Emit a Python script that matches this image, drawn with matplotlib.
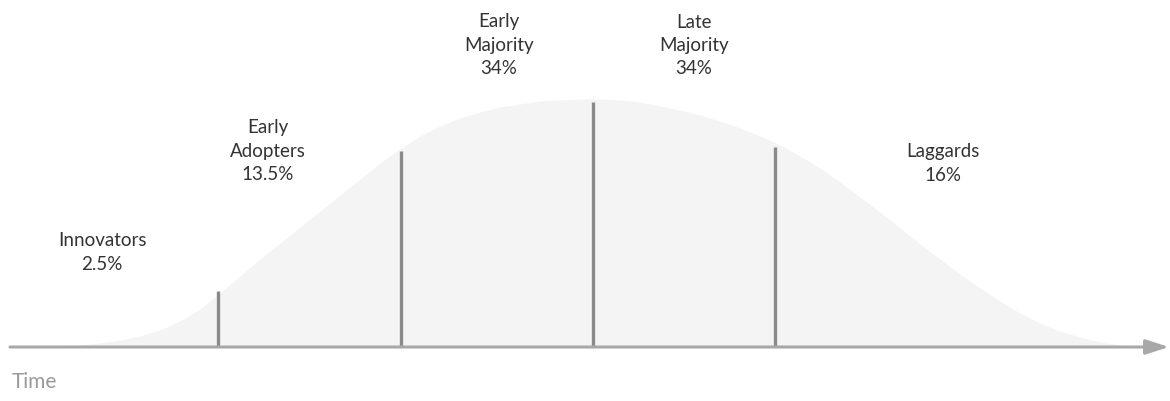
import matplotlib
matplotlib.use("Agg")
import matplotlib.pyplot as plt

# Bell curve outline (x position, height above the time axis)
curve_x = [40, 60, 80, 100, 120, 140, 160, 180, 200, 220, 240, 260, 280, 300, 320,
           340, 360, 380, 400, 420, 440, 460, 480, 500, 520, 540, 560, 580, 600,
           620, 640, 660, 680, 700, 720, 740, 760, 780, 800, 820, 840, 860, 880,
           900, 920, 940, 960, 980, 1000, 1020, 1040, 1060, 1080, 1100, 1120, 1140]
curve_h = [0, 1, 2, 4, 7, 11, 17, 26, 38, 54, 71, 88, 104, 120, 136,
           152, 168, 184, 198, 211, 221, 229, 235, 240, 243, 246, 247, 248, 248,
           247, 245, 241, 237, 232, 226, 219, 211, 202, 191, 179, 165, 150, 135,
           119, 103, 88, 73, 59, 46, 34, 24, 16, 10, 5, 2, 0]

# Segment divider lines (x position, height)
divider_x = [218, 401, 593, 775]
divider_h = [56, 196, 245, 200]

# Segment labels
labels = ["Innovators\n2.5%", "Early\nAdopters\n13.5%", "Early\nMajority\n34%",
          "Late\nMajority\n34%", "Laggards\n16%"]
label_x = [102, 268, 499, 694, 943]
label_top = [241, 128, 22, 22, 152]   # pixel row of first text line centre

axis_label = "Time"

W, H = 1170, 402
AXIS_Y = 348

fig = plt.figure(figsize=(W / 100, H / 100), dpi=100)
ax = fig.add_axes([0, 0, 1, 1])
ax.set_xlim(0, W)
ax.set_ylim(AXIS_Y - H, AXIS_Y)
ax.axis("off")

font = ["Lato", "DejaVu Sans"]

ax.fill_between(curve_x, 0, curve_h, color="#f4f4f4", lw=0, zorder=1)

ax.vlines(divider_x, 0, divider_h, color="#8a8a8a", lw=2.4, zorder=3)

ax.annotate("", xy=(1169, 0), xytext=(10, 0),
            arrowprops=dict(arrowstyle="-|>,head_length=1.4,head_width=0.45",
                            color="#a8a8a8", lw=2.2, shrinkA=0, shrinkB=0),
            zorder=4)

line_gap = 23.5
for txt, x, top in zip(labels, label_x, label_top):
    for i, line in enumerate(txt.split("\n")):
        ax.text(x, AXIS_Y - (top + i * line_gap), line, ha="center", va="center",
                fontsize=13.5, color="#333333", family=font)

ax.text(12, AXIS_Y - 382, axis_label, ha="left", va="center", fontsize=15,
        color="#9a9a9a", family=font)

fig.savefig("out.png", dpi=100)
